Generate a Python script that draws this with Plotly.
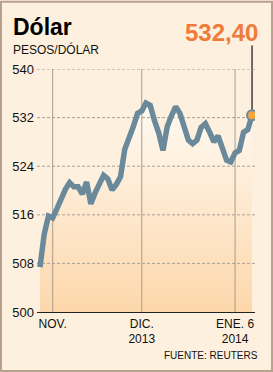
import plotly.graph_objects as go

# ---- data ----
day_index = list(range(51))
peso_dolar = [
    507.4, 512.8, 515.8, 515.5, 517.0, 518.7, 520.2, 521.3, 520.6, 520.6,
    519.4, 521.4, 517.8, 519.6, 521.0, 522.5, 521.9, 520.1, 521.0, 522.3,
    526.8, 528.5, 530.5, 532.7, 533.1, 534.4, 534.0, 531.5, 529.5, 526.6,
    530.5, 532.3, 533.8, 532.7, 530.5, 528.3, 527.7, 528.3, 530.4, 531.0,
    529.6, 528.0, 529.0, 527.0, 525.0, 524.7, 526.2, 526.6, 529.6, 530.0,
    532.4,
]
tick_positions = [3, 24, 46]
tick_labels = ["NOV.", "DIC.<br>2013", "ENE. 6<br>2014"]
y_ticks = [500, 508, 516, 524, 532, 540]
last_value_label = "532,40"

# ---- geometry ----
W, H = 273, 372
L, R, T, B = 37, 18, 68.5, 60
PW, PH = W - L - R, H - T - B
X_RANGE = [-0.7, 50.7]
Y_RANGE = [500, 540]
def px(x):
    return (x - L) / PW
def py(y):
    return (H - B - y) / PH

BG = "#fdf0de"
LINE = "#6a8a9b"
FONT = "Liberation Sans"

fig = go.Figure()
fig.add_trace(go.Scatter(
    x=day_index, y=peso_dolar, mode="lines", line=dict(width=0),
    fill="tozeroy",
    fillgradient=dict(type="vertical", start=500, stop=534,
                      colorscale=[[0, "#fdd7ab"], [1, "#fffaf2"]]),
    hoverinfo="skip", showlegend=False,
))
# grid drawn above the fill, below the line
for yv in y_ticks[1:]:
    fig.add_trace(go.Scatter(x=X_RANGE, y=[yv, yv], mode="lines",
                             line=dict(color="#a8a096", width=1, dash="3px,2px"),
                             hoverinfo="skip", showlegend=False))
for xv in tick_positions:
    fig.add_trace(go.Scatter(x=[xv, xv], y=Y_RANGE, mode="lines",
                             line=dict(color="#a99c8c", width=1),
                             hoverinfo="skip", showlegend=False))
fig.add_trace(go.Scatter(
    x=day_index, y=peso_dolar, mode="lines",
    line=dict(width=5.5, color=LINE), showlegend=False,
))
fig.add_trace(go.Scatter(
    x=[day_index[-1]], y=[peso_dolar[-1]], mode="markers",
    marker=dict(size=10, color="#f6a53c", line=dict(width=2, color=LINE)),
    showlegend=False,
))

# connector from label to last point
fig.add_shape(type="line", xref="x", yref="paper",
              x0=day_index[-1], x1=day_index[-1],
              y0=(peso_dolar[-1] - 500) / 40 + 0.02, y1=py(45),
              line=dict(color="#111", width=1.2), layer="below")

# border
fig.add_shape(type="rect", xref="paper", yref="paper",
              x0=px(1), x1=px(W - 1), y0=py(H - 1), y1=py(1),
              line=dict(color="#b8a28f", width=2))

fig.add_annotation(text="<b>Dólar</b>", xref="paper", yref="paper",
                   x=px(11), y=py(26), xanchor="left", yanchor="middle",
                   showarrow=False, font=dict(family=FONT, size=23, color="#000"))
fig.add_annotation(text="PESOS/DÓLAR", xref="paper", yref="paper",
                   x=px(11), y=py(49), xanchor="left", yanchor="middle",
                   showarrow=False, font=dict(family=FONT, size=12, color="#111"))
fig.add_annotation(text="<b>" + last_value_label + "</b>", xref="paper", yref="paper",
                   x=px(260), y=py(32), xanchor="right", yanchor="middle",
                   showarrow=False, font=dict(family=FONT, size=24, color="#f07a3a"))
fig.add_annotation(text="FUENTE: REUTERS", xref="paper", yref="paper",
                   x=px(260), y=py(356), xanchor="right", yanchor="middle",
                   showarrow=False, font=dict(family=FONT, size=10, color="#111"))

fig.update_xaxes(range=X_RANGE, tickvals=tick_positions, ticktext=tick_labels,
                 showgrid=False,
                 showline=True, linecolor="#222", linewidth=1.2,
                 ticks="", zeroline=False,
                 tickfont=dict(family=FONT, size=12, color="#111"))
fig.update_yaxes(range=Y_RANGE, tickvals=y_ticks,
                 showgrid=False, zeroline=False, ticks="", ticklabelstandoff=2,
                 tickfont=dict(family=FONT, size=13, color="#111"))
fig.update_layout(width=W, height=H, margin=dict(l=L, r=R, t=T, b=B),
                  paper_bgcolor=BG, plot_bgcolor=BG)
fig.write_html("out.html")
